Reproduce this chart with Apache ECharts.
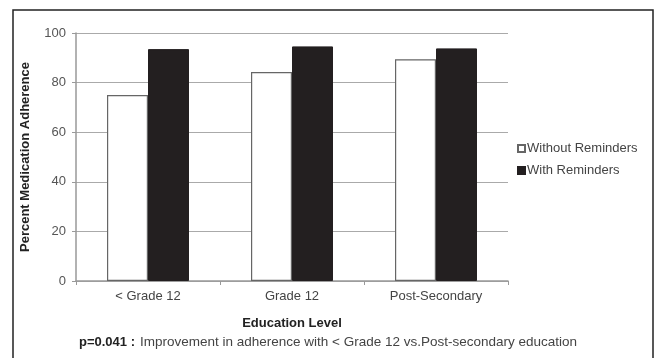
<!DOCTYPE html>
<html>
<head>
<meta charset="utf-8">
<script src="https://cdn.jsdelivr.net/npm/echarts@6/dist/echarts.min.js"></script>
<style>
  html, body { margin: 0; padding: 0; background: #fff; }
  #main { width: 657px; height: 358px; }
</style>
</head>
<body>
<div id="main"></div>
<script>
var categories = ['< Grade 12', 'Grade 12', 'Post-Secondary'];
var withoutReminders = [75.0, 84.3, 89.4];
var withReminders = [93.5, 94.6, 93.8];
var yTicks = [0, 20, 40, 60, 80, 100];

var font = '"Liberation Sans", Arial, sans-serif';

var chart = echarts.init(document.getElementById('main'));

chart.setOption({
    animation: false,
    backgroundColor: '#fff',
    textStyle: { fontFamily: font },
    graphic: [
        {
            type: 'rect',
            shape: { x: 13, y: 10, width: 640, height: 380 },
            style: { fill: 'none', stroke: '#222', lineWidth: 1.5 },
            silent: true
        }
    ],
    title: {
        left: 74,
        top: 328,
        text: '{b|p=0.041 :} {n|Improvement in adherence with < Grade 12 vs.Post-secondary education}',
        textStyle: {
            rich: {
                b: { fontFamily: font, fontSize: 13, lineHeight: 18, fontWeight: 'bold', color: '#222', padding: [1, 0, 0, 0] },
                n: { fontFamily: font, fontSize: 13.5, lineHeight: 18, fontWeight: 'normal', color: '#444' }
            }
        }
    },
    legend: {
        orient: 'vertical',
        left: 512,
        top: 137,
        icon: 'rect',
        itemWidth: 7,
        itemHeight: 7,
        itemGap: 9,
        textStyle: { fontFamily: font, fontSize: 13, color: '#444', padding: [0, 0, 0, -3] },
        data: ['Without Reminders', 'With Reminders']
    },
    grid: {
        left: 76,
        right: 149,
        top: 33,
        bottom: 77
    },
    xAxis: {
        type: 'category',
        data: categories,
        name: 'Education Level',
        nameLocation: 'middle',
        nameGap: 36,
        nameTextStyle: { fontFamily: font, fontSize: 13, fontWeight: 'bold', color: '#222' },
        axisLine: { lineStyle: { color: '#999', width: 1.5 } },
        axisTick: { show: true, length: 4, inside: false, lineStyle: { color: '#999' } },
        axisLabel: { fontFamily: font, fontSize: 13, color: '#444', margin: 9 }
    },
    yAxis: {
        type: 'value',
        min: 0,
        max: 100,
        interval: 20,
        name: 'Percent Medication Adherence',
        nameLocation: 'middle',
        nameGap: 44,
        nameTextStyle: { fontFamily: font, fontSize: 13, fontWeight: 'bold', color: '#222' },
        axisLine: { show: true, lineStyle: { color: '#999', width: 1.5 } },
        axisTick: { show: true, length: 4, lineStyle: { color: '#999' } },
        axisLabel: {
            fontFamily: font, fontSize: 13, color: '#555', margin: 10,
            formatter: function (v) { return yTicks.indexOf(v) >= 0 ? String(v) : ''; }
        },
        splitLine: { lineStyle: { color: '#aaa', width: 1 } }
    },
    series: [
        {
            name: 'Without Reminders',
            type: 'bar',
            data: withoutReminders,
            barWidth: 41,
            barGap: '0%',
            itemStyle: { color: '#fff', borderColor: '#666', borderWidth: 1.2 }
        },
        {
            name: 'With Reminders',
            type: 'bar',
            data: withReminders,
            barWidth: 41,
            barGap: '0%',
            itemStyle: { color: '#231f20', borderColor: '#231f20', borderWidth: 1 }
        }
    ]
});
</script>
</body>
</html>
